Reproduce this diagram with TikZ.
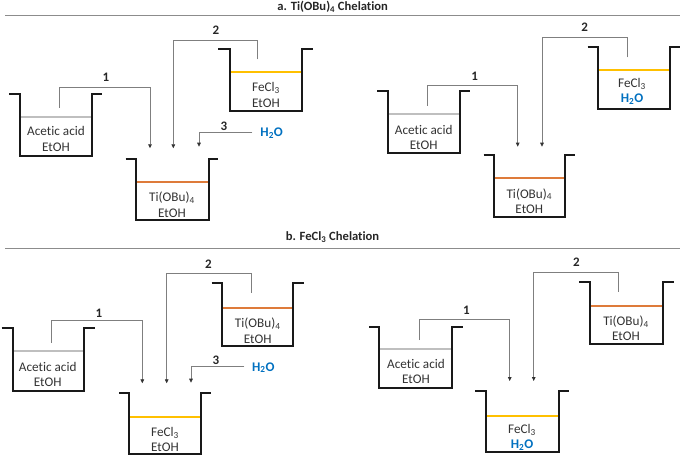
\documentclass[tikz,border=0pt]{standalone}
\usepackage{fontspec}
\setmainfont{Carlito}[Ligatures=NoCommon]
\usetikzlibrary{arrows.meta}
\definecolor{wblue}{HTML}{0070C0}
\definecolor{liqgray}{HTML}{BFBFBF}
\definecolor{liqorange}{HTML}{DE7B3A}
\definecolor{liqyellow}{HTML}{FFC000}
\definecolor{conngray}{HTML}{7F7F7F}
\tikzset{
  wall/.style={line width=1.9pt, line join=miter, black!90},
  liq/.style={line width=2pt},
  conn/.style={line width=0.8pt, conngray, -{Triangle[length=4pt,width=3.6pt,color=black!80]}},
  txt/.style={align=center, inner sep=0pt, font=\fontsize{13.2}{15.3}\selectfont, text=black!80},
  lbl/.style={inner sep=0pt, font=\fontsize{13}{15}\selectfont\bfseries, text=black!85},
  ttl/.style={inner sep=0pt, font=\fontsize{12.6}{15}\selectfont\bfseries, text=black!85},
  water/.style={inner sep=0pt, font=\fontsize{13.2}{15}\selectfont\bfseries, text=wblue},
  rule/.style={line width=0.8pt, black!45}
}
% #1 left tick x, #2 left wall x, #3 right wall x, #4 right tick x, #5 top y, #6 bottom y, #7 liquid y, #8 colour
\newcommand\mybeaker[8]{%
  \draw[liq,draw=#8] (#2,-#7) -- (#3,-#7);
  \draw[wall] (#1,-#5) -- (#2,-#5) -- (#2,-#6) -- (#3,-#6) -- (#3,-#5) -- (#4,-#5);
}
\begin{document}
\begin{tikzpicture}[x=1pt,y=1pt]
\useasboundingbox (0,0) rectangle (685,-457);

% ---------------- panel a ----------------
\node[ttl] (ta) at (332.7,-7) {a. Ti(OBu)\textsubscript{4} Chelation};
\coordinate (ra1) at (5,-15.5);
\coordinate (ra2) at (680,-15.5);
\draw[rule] (ra1) -- (ra2);

% left half
\mybeaker{9.3}{20}{91.7}{101.7}{94.3}{155.7}{117}{liqgray}
\node[txt] (A1) at (56,-139) {Acetic acid\\EtOH};
\mybeaker{218}{230}{302.3}{313.3}{49.3}{110.7}{72}{liqyellow}
\node[txt] (F1) at (266,-95) {FeCl\textsubscript{3}\\EtOH};
\mybeaker{125.7}{136}{209.3}{218.3}{159.3}{220}{182}{liqorange}
\node[txt] (T1) at (172,-204.7) {Ti(OBu)\textsubscript{4}\\EtOH};
\node[water] (W1) at (271.7,-133.3) {H\textsubscript{2}O};

\coordinate (s11) at (59.3,-108);
\coordinate (k11) at (150,-87.3);
\coordinate (e11) at (150,-148.3);
\draw[conn] (s11) |- (k11) -- (e11);
\node[lbl] (l11) at (106,-77.7) {1};

\coordinate (s12) at (257.7,-59.3);
\coordinate (k12) at (173.3,-40);
\coordinate (e12) at (173.3,-148.3);
\draw[conn] (s12) |- (k12) -- (e12);
\node[lbl] (l12) at (216,-30) {2};

\coordinate (s13) at (252.3,-132.3);
\coordinate (e13) at (199,-146.7);
\draw[conn] (s13) -| (e13);
\node[lbl] (l13) at (224,-126) {3};

% right half
\mybeaker{377}{387.7}{460.3}{470.3}{90.7}{153.3}{114}{liqgray}
\node[txt] (A2) at (423.7,-137.2) {Acetic acid\\EtOH};
\mybeaker{483.7}{493.7}{564.7}{575.3}{155}{216.7}{178}{liqorange}
\node[txt] (T2) at (529.3,-201) {Ti(OBu)\textsubscript{4}\\EtOH};
\mybeaker{587.7}{598}{669.7}{680.3}{46.7}{109}{70}{liqyellow}
\node[txt] (F2) at (632,-91.3) {FeCl\textsubscript{3}\\\textcolor{wblue}{\bfseries H\textsubscript{2}O}};

\coordinate (s21) at (427.7,-106);
\coordinate (k21) at (517.7,-85);
\coordinate (e21) at (517.7,-146.7);
\draw[conn] (s21) |- (k21) -- (e21);
\node[lbl] (l21) at (474.7,-76) {1};

\coordinate (s22) at (627,-57.3);
\coordinate (k22) at (542,-37.7);
\coordinate (e22) at (542,-146.7);
\draw[conn] (s22) |- (k22) -- (e22);
\node[lbl] (l22) at (584.7,-27.3) {2};

% ---------------- panel b ----------------
\node[ttl] (tb) at (332.5,-237) {b. FeCl\textsubscript{3} Chelation};
\coordinate (rb1) at (5,-248.7);
\coordinate (rb2) at (680,-248.7);
\draw[rule] (rb1) -- (rb2);

% left half
\mybeaker{1.7}{12.7}{84}{95}{328.3}{391}{351}{liqgray}
\node[txt] (A3) at (47.7,-374.2) {Acetic acid\\EtOH};
\mybeaker{211.7}{222.3}{293.3}{304}{282.7}{346}{308}{liqorange}
\node[txt] (T3) at (257.7,-330.8) {Ti(OBu)\textsubscript{4}\\EtOH};
\mybeaker{119}{129}{201}{210.7}{393.3}{454}{417}{liqyellow}
\node[txt] (F3) at (165,-439.7) {FeCl\textsubscript{3}\\EtOH};
\node[water] (W3) at (263.3,-367.7) {H\textsubscript{2}O};

\coordinate (s31) at (51.7,-342.7);
\coordinate (k31) at (142.3,-320.7);
\coordinate (e31) at (142.3,-383.3);
\draw[conn] (s31) |- (k31) -- (e31);
\node[lbl] (l31) at (99,-313.3) {1};

\coordinate (s32) at (251.7,-292.7);
\coordinate (k32) at (166.7,-273.3);
\coordinate (e32) at (166.7,-383.3);
\draw[conn] (s32) |- (k32) -- (e32);
\node[lbl] (l32) at (208.3,-264.3) {2};

\coordinate (s33) at (244.3,-366.7);
\coordinate (e33) at (191,-382.7);
\draw[conn] (s33) -| (e33);
\node[lbl] (l33) at (216,-360.7) {3};

% right half
\mybeaker{369.3}{379.3}{452}{462.7}{326.7}{387.7}{349}{liqgray}
\node[txt] (A4) at (416,-371.7) {Acetic acid\\EtOH};
\mybeaker{475.3}{486.3}{558.7}{568.7}{390.7}{451.7}{416}{liqyellow}
\node[txt] (F4) at (522,-437.2) {FeCl\textsubscript{3}\\\textcolor{wblue}{\bfseries H\textsubscript{2}O}};
\mybeaker{579.3}{590.3}{663}{673.7}{281.7}{344.3}{306}{liqorange}
\node[txt] (T4) at (626,-328.5) {Ti(OBu)\textsubscript{4}\\EtOH};

\coordinate (s41) at (419.7,-340);
\coordinate (k41) at (509.7,-319.3);
\coordinate (e41) at (509.7,-381);
\draw[conn] (s41) |- (k41) -- (e41);
\node[lbl] (l41) at (466.3,-310) {1};

\coordinate (s42) at (618.7,-291.7);
\coordinate (k42) at (533.7,-272.3);
\coordinate (e42) at (533.7,-381);
\draw[conn] (s42) |- (k42) -- (e42);
\node[lbl] (l42) at (576.3,-262.3) {2};
\end{tikzpicture}
\end{document}
